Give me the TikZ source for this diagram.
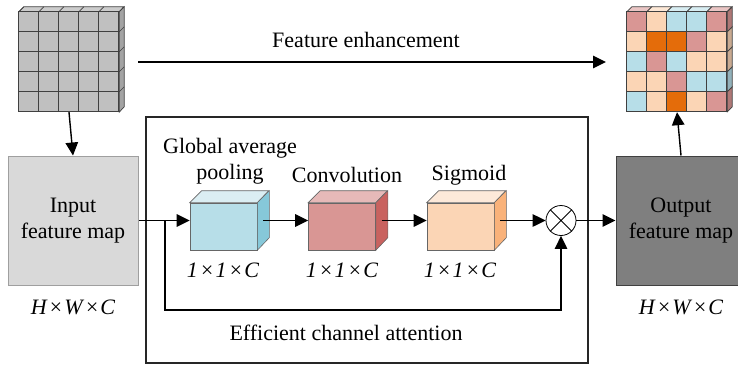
\documentclass[tikz,border=0pt]{standalone}
\usepackage{fontspec}
\setmainfont{Liberation Serif}
\usetikzlibrary{arrows.meta}
\definecolor{gridgray}{HTML}{C0C0C0}
\definecolor{gridtop}{HTML}{CCCCCC}
\definecolor{gridline}{HTML}{404040}
\definecolor{inpgray}{HTML}{D9D9D9}
\definecolor{outgray}{HTML}{7F7F7F}
\definecolor{rose}{HTML}{D99694}
\definecolor{peach}{HTML}{FBD5B5}
\definecolor{lblue}{HTML}{B7DEE8}
\definecolor{orng}{HTML}{E46C0A}
\definecolor{blueT}{HTML}{DBEEF3}
\definecolor{blueR}{HTML}{86C8D9}
\definecolor{roseT}{HTML}{E6B9B8}
\definecolor{roseR}{HTML}{C9625F}
\definecolor{peachT}{HTML}{FDE9D9}
\definecolor{peachR}{HTML}{F9B27A}
\newcommand{\tms}{\kern0.08em×\kern0.05em}
\begin{document}
\begin{tikzpicture}[x=1pt,y=-1pt,
  font=\fontsize{22}{26}\selectfont,
  arr/.style={line width=1.4pt,-{Triangle[length=13pt,width=12.5pt]}},
  mapbox/.style={draw=#1,line width=1pt,minimum width=130pt,minimum height=129pt,align=center,inner sep=0pt},
  cubefront/.style={draw=gray!80!black,line width=0.6pt,minimum width=67pt,minimum height=47pt,inner sep=0pt},
  face/.style={draw=gray!80!black,line width=0.6pt},
  cell/.style={draw=gridline,line width=0.7pt},
  dim/.style={font=\fontsize{22}{26}\selectfont\itshape},
]
\useasboundingbox (0,0) rectangle (738,364);

% ---------- left grid (input) ----------
\node[minimum width=100pt,minimum height=100pt,inner sep=0pt] (gridL) at (69,62) {};
\fill[gridtop,draw=gridline,line width=0.7pt] (gridL.north west) -- ++(5,-5) -- ++(100,0) -- (gridL.north east) -- cycle;
\fill[gridgray!85!black,draw=gridline,line width=0.7pt] (gridL.north east) -- ++(5,-5) -- ++(0,100) -- (gridL.south east) -- cycle;
\foreach \i in {0,...,4}{
  \draw[gridline,line width=0.7pt] ([xshift=\i*20pt]gridL.north west) -- ++(5,-5);
  \draw[gridline,line width=0.7pt] ([yshift=-\i*20pt]gridL.north east) -- ++(5,-5);
  \foreach \j in {0,...,4}{
    \fill[gridgray,cell] ([xshift=\i*20pt,yshift=-\j*20pt]gridL.north west) rectangle ++(20,20);
  }
}

% ---------- right grid (output) ----------
\node[minimum width=100pt,minimum height=100pt,inner sep=0pt] (gridR) at (677,62) {};
\foreach \c [count=\k from 0] in {rose,peach,lblue,lblue,rose}{
  \fill[\c!55!white,cell] ([xshift=\k*20pt]gridR.north west) -- ++(5,-5) -- ++(20,0) -- ++(-5,5) -- cycle;
}
\foreach \c [count=\k from 0] in {rose,peach,peach,lblue,rose}{
  \fill[\c!80!black,cell] ([yshift=-\k*20pt]gridR.north east) -- ++(5,-5) -- ++(0,20) -- ++(-5,5) -- cycle;
}
\foreach \row [count=\j from 0] in {
  {rose,peach,lblue,lblue,rose},
  {peach,orng,orng,rose,peach},
  {lblue,rose,lblue,peach,peach},
  {peach,peach,rose,lblue,lblue},
  {lblue,peach,orng,peach,rose}}{
  \foreach \c [count=\i from 0] in \row {
    \fill[\c,cell] ([xshift=\i*20pt,yshift=-\j*20pt]gridR.north west) rectangle ++(20,20);
  }
}

% ---------- feature maps ----------
\node[mapbox=gray!75,fill=inpgray] (inp) at (73,220.5) {Input\\feature map};
\node[mapbox=gray!50!black,fill=outgray] (outp) at (681,220.5) {Output\\feature map};
\node[dim] (hwcL) at (73,307) {H\tms W\tms C};
\node[dim] (hwcR) at (681,307) {H\tms W\tms C};

% ---------- ECA box ----------
\node[draw=black!85,line width=1.2pt,minimum width=442pt,minimum height=246pt,inner sep=0pt] (eca) at (367,240) {};
\node (ecalabel) at (346,333) {Efficient channel attention};

% ---------- cubes ----------
\foreach \n/\x/\cf/\ct/\cr in {gap/223.5/lblue/blueT/blueR, conv/342/rose/roseT/roseR, sig/460.5/peach/peachT/peachR}{
  \node[cubefront,fill=\cf] (\n) at (\x,226.5) {};
  \filldraw[face,fill=\ct] (\n.north west) -- ++(12,-12) -- ++(67,0) -- (\n.north east) -- cycle;
  \filldraw[face,fill=\cr] (\n.north east) -- ++(12,-12) -- ++(0,47) -- (\n.south east) -- cycle;
}
\node[align=center] (gaplabel) at (230,161) {Global average\\pooling};
\node (convlabel) at (347,175) {Convolution};
\node (siglabel) at (469,175) {Sigmoid};
\node[dim] (d1) at (223,270) {1\tms 1\tms C};
\node[dim] (d2) at (342,270) {1\tms 1\tms C};
\node[dim] (d3) at (460,270) {1\tms 1\tms C};

% ---------- multiply ----------
\node[draw,circle,line width=0.8pt,minimum size=30pt,inner sep=0pt] (mul) at (561,220.5) {};
\draw[line width=0.8pt] (mul.north west) -- (mul.south east) (mul.north east) -- (mul.south west);

% ---------- connectors ----------
\coordinate (fe1) at (138,62);
\coordinate (fe2) at (606,62);
\draw[arr] (fe1) -- (fe2);
\node (felabel) at (366,40) {Feature enhancement};

\draw[arr] (gridL.south) -- (inp.north);
\draw[arr] (outp.north) -- (gridR.south);

\draw[arr] (inp.east) -- (inp.east -| gap.west);
\draw[arr] ([xshift=6pt,yshift=6pt]gap.east) -- ([yshift=6pt]conv.west);
\draw[arr] ([xshift=6pt,yshift=6pt]conv.east) -- ([yshift=6pt]sig.west);
\draw[arr] ([xshift=6pt,yshift=6pt]sig.east) -- (mul.west);
\draw[arr] (mul.east) -- (mul.east -| outp.west);

\coordinate (br) at (165,220.5);
\coordinate (bl) at (165,310);
\draw[arr] (br) -- (bl) -| (mul.south);
\end{tikzpicture}
\end{document}
